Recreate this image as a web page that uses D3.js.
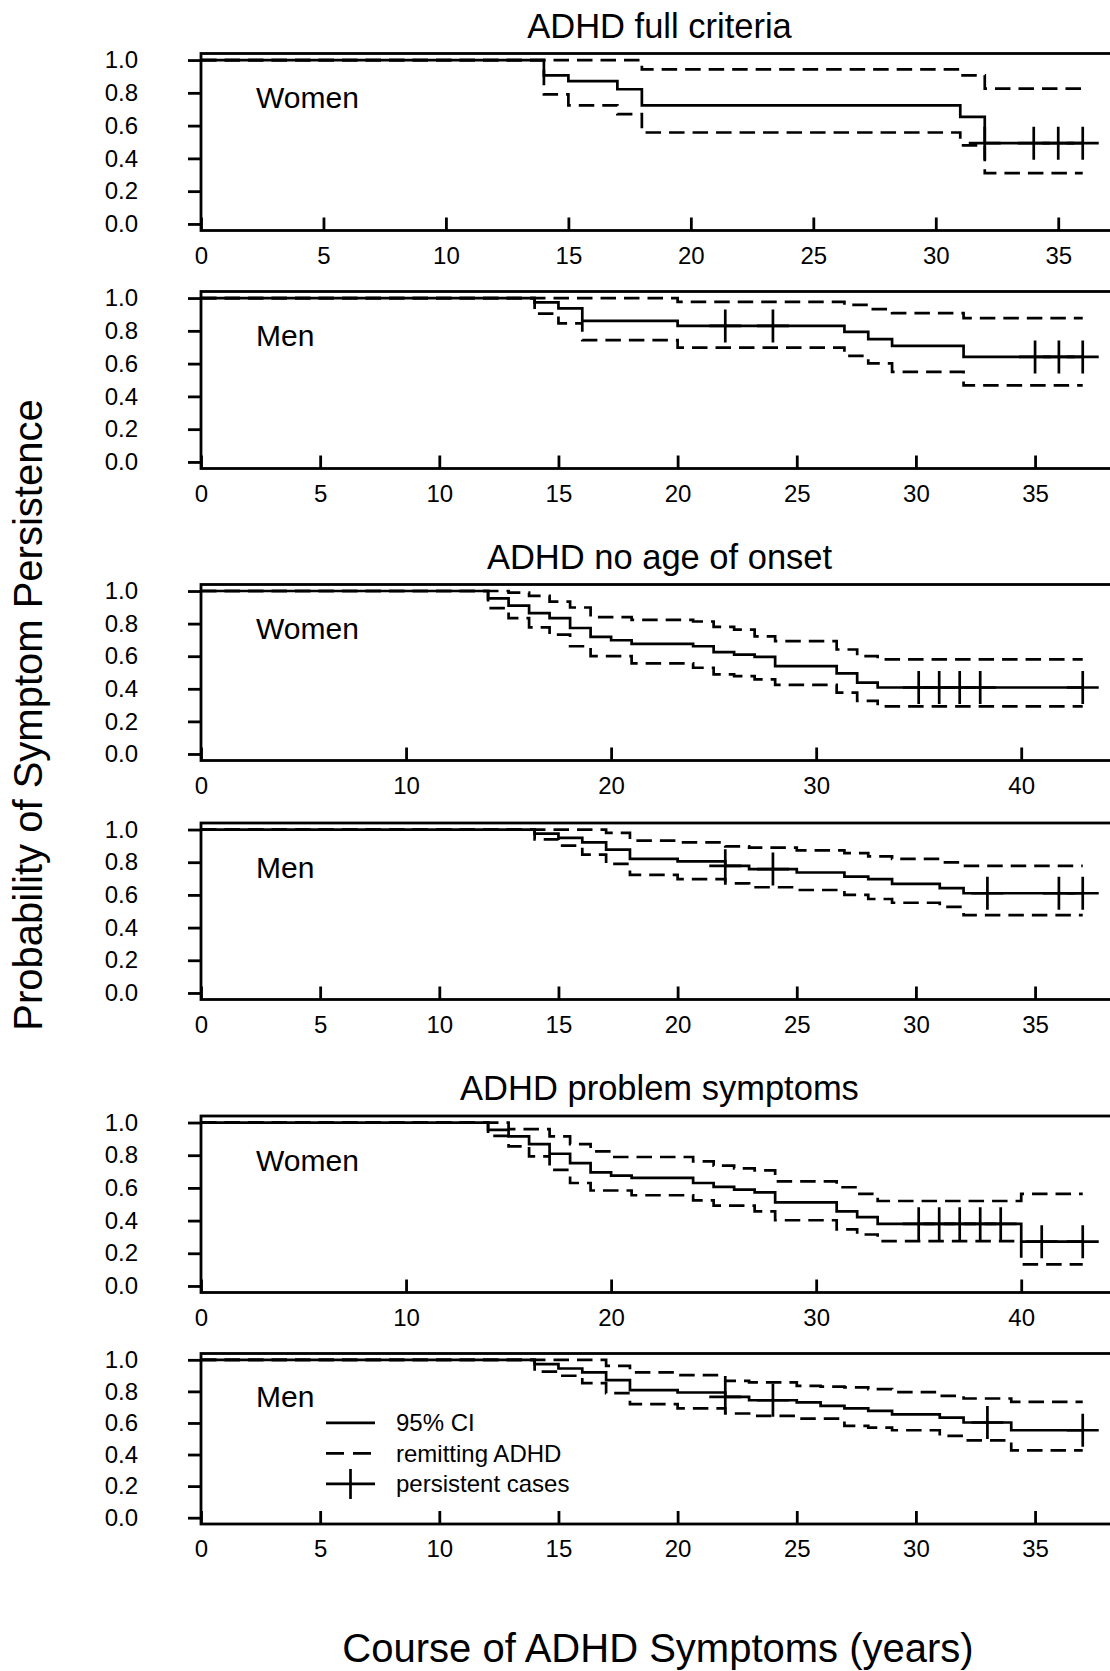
<!DOCTYPE html>
<html>
<head>
<meta charset="utf-8">
<script src="https://cdn.jsdelivr.net/npm/d3@7"></script>
<style>
  body { margin: 0; background: #fff; }
  svg { display: block; font-family: "Liberation Sans", Arial, sans-serif; }
</style>
</head>
<body>
<svg id="chart" width="1110" height="1671"></svg>
<script>
// titles and tick labels
const titles = ["ADHD full criteria", "ADHD no age of onset", "ADHD problem symptoms"];
const groupLabels = ["Women", "Men"];
const yTicks = [0, 0.2, 0.4, 0.6, 0.8, 1.0];
const ticks5 = [0, 5, 10, 15, 20, 25, 30, 35];
const ticks10 = [0, 10, 20, 30, 40];
const legendLabels = ["95% CI", "remitting ADHD", "persistent cases"];

// ADHD full criteria - women  ([time, value] steps)
const fullWomenSurv = [[0, 1], [14, 0.907], [15, 0.872], [17, 0.822], [18, 0.724], [31, 0.653], [32, 0.493]];
const fullWomenUpper = [[0, 1], [18, 0.943], [31, 0.907], [32, 0.826]];
const fullWomenLower = [[0, 1], [14, 0.79], [15, 0.724], [17, 0.67], [18, 0.558], [31, 0.48], [32, 0.31]];
const fullWomenCensor = [32, 34, 35, 36];
const fullWomenEnd = 36;

// ADHD full criteria - men
const fullMenSurv = [[0, 1], [14, 0.974], [15, 0.937], [16, 0.861], [20, 0.83], [27, 0.794], [28, 0.749], [29, 0.708], [32, 0.641]];
const fullMenUpper = [[0, 1], [20, 0.977], [27, 0.959], [28, 0.933], [29, 0.908], [32, 0.877]];
const fullMenLower = [[0, 1], [14, 0.905], [15, 0.845], [16, 0.743], [20, 0.698], [27, 0.647], [28, 0.602], [29, 0.549], [32, 0.467]];
const fullMenCensor = [22, 24, 35, 36, 37];
const fullMenEnd = 37;

// ADHD no age of onset - women
const onsetWomenSurv = [[0, 1], [14, 0.955], [15, 0.91], [16, 0.864], [17, 0.834], [18, 0.773], [19, 0.718], [20, 0.698], [21, 0.676],
  [24, 0.661], [25, 0.625], [26, 0.61], [27, 0.596], [28, 0.539], [31, 0.495], [32, 0.438], [33, 0.408]];
const onsetWomenUpper = [[0, 1], [15, 0.99], [16, 0.97], [17, 0.935], [18, 0.899], [19, 0.84], [21, 0.823], [24, 0.813], [25, 0.78],
  [26, 0.763], [27, 0.722], [28, 0.692], [31, 0.641], [32, 0.6], [33, 0.58]];
const onsetWomenLower = [[0, 1], [14, 0.895], [15, 0.834], [16, 0.777], [17, 0.732], [18, 0.661], [19, 0.6], [21, 0.556], [24, 0.529],
  [25, 0.489], [26, 0.478], [27, 0.458], [28, 0.424], [31, 0.377], [32, 0.326], [33, 0.292]];
const onsetWomenCensor = [35, 36, 37, 38, 43];
const onsetWomenEnd = 43;

// ADHD no age of onset - men
const onsetMenSurv = [[0, 1], [14, 0.975], [15, 0.949], [16, 0.922], [17, 0.877], [18, 0.821], [20, 0.805], [22, 0.778], [23, 0.758],
  [25, 0.737], [27, 0.712], [28, 0.696], [29, 0.667], [31, 0.641], [32, 0.61]];
const onsetMenUpper = [[0, 1], [17, 0.98], [18, 0.932], [20, 0.922], [22, 0.897], [23, 0.889], [25, 0.872], [27, 0.856], [28, 0.836],
  [29, 0.821], [31, 0.799], [32, 0.778]];
const onsetMenLower = [[0, 1], [14, 0.94], [15, 0.901], [16, 0.846], [17, 0.79], [18, 0.723], [20, 0.696], [22, 0.671], [23, 0.647],
  [25, 0.63], [27, 0.6], [28, 0.575], [29, 0.552], [31, 0.527], [32, 0.476]];
const onsetMenCensor = [22, 24, 33, 36, 37];
const onsetMenEnd = 37;

// ADHD problem symptoms - women
const probWomenSurv = [[0, 1], [14, 0.955], [15, 0.915], [16, 0.868], [17, 0.809], [18, 0.752], [19, 0.695], [20, 0.675], [21, 0.661],
  [24, 0.63], [25, 0.606], [26, 0.59], [27, 0.573], [28, 0.512], [31, 0.457], [32, 0.421], [33, 0.38], [40, 0.271]];
const probWomenUpper = [[0, 1], [15, 0.96], [17, 0.915], [18, 0.868], [19, 0.823], [20, 0.789], [24, 0.762], [25, 0.736], [26, 0.72],
  [27, 0.707], [28, 0.64], [31, 0.604], [32, 0.563], [33, 0.52], [40, 0.563]];
const probWomenLower = [[0, 1], [14, 0.919], [15, 0.854], [16, 0.793], [17, 0.71], [18, 0.63], [19, 0.584], [21, 0.555], [24, 0.524],
  [25, 0.492], [27, 0.457], [28, 0.402], [31, 0.346], [32, 0.315], [33, 0.274], [40, 0.132]];
const probWomenCensor = [35, 36, 37, 38, 39, 41, 43];
const probWomenEnd = 43;

// ADHD problem symptoms - men
const probMenSurv = [[0, 1], [14, 0.973], [15, 0.945], [16, 0.92], [17, 0.871], [18, 0.808], [20, 0.793], [22, 0.765], [23, 0.744],
  [25, 0.73], [26, 0.708], [27, 0.692], [28, 0.676], [29, 0.655], [31, 0.634], [32, 0.603], [34, 0.554]];
const probMenUpper = [[0, 1], [17, 0.962], [18, 0.92], [20, 0.903], [22, 0.867], [23, 0.857], [25, 0.835], [26, 0.83], [27, 0.825],
  [28, 0.814], [29, 0.795], [31, 0.772], [32, 0.755], [34, 0.734]];
const probMenLower = [[0, 1], [14, 0.925], [15, 0.899], [16, 0.852], [17, 0.789], [18, 0.719], [20, 0.692], [22, 0.66], [23, 0.645],
  [25, 0.628], [27, 0.581], [28, 0.571], [29, 0.554], [31, 0.518], [32, 0.49], [34, 0.427]];
const probMenCensor = [22, 24, 33, 37];
const probMenEnd = 37;

// layout
const svg = d3.select("#chart");
const left = 201, right = 1118;   // right edge of the box sits just outside the picture
const dash = "15.5,8";
const lw = 2.7;

const panels = [
  { title: titles[0], label: groupLabels[0], surv: fullWomenSurv, upper: fullWomenUpper, lower: fullWomenLower, censor: fullWomenCensor, tEnd: fullWomenEnd, xTicks: ticks5, top: 53.5, bottom: 230.5 },
  { label: groupLabels[1], surv: fullMenSurv, upper: fullMenUpper, lower: fullMenLower, censor: fullMenCensor, tEnd: fullMenEnd, xTicks: ticks5, top: 291.5, bottom: 468.5 },
  { title: titles[1], label: groupLabels[0], surv: onsetWomenSurv, upper: onsetWomenUpper, lower: onsetWomenLower, censor: onsetWomenCensor, tEnd: onsetWomenEnd, xTicks: ticks10, top: 584.5, bottom: 760.5 },
  { label: groupLabels[1], surv: onsetMenSurv, upper: onsetMenUpper, lower: onsetMenLower, censor: onsetMenCensor, tEnd: onsetMenEnd, xTicks: ticks5, top: 823, bottom: 999.5 },
  { title: titles[2], label: groupLabels[0], surv: probWomenSurv, upper: probWomenUpper, lower: probWomenLower, censor: probWomenCensor, tEnd: probWomenEnd, xTicks: ticks10, top: 1116, bottom: 1292.5 },
  { label: groupLabels[1], surv: probMenSurv, upper: probMenUpper, lower: probMenLower, censor: probMenCensor, tEnd: probMenEnd, xTicks: ticks5, top: 1353.5, bottom: 1524, legend: true }
];

// value of a step function at time t
const stepAt = (steps, t) => {
  let v = steps[0][1];
  steps.forEach(d => { if (d[0] <= t) v = d[1]; });
  return v;
};

const plusPath = (cx, cy, w, h) => `M${cx - w},${cy}H${cx + w}M${cx},${cy - h}V${cy + h}`;

panels.forEach(p => {
  const x = d3.scaleLinear().domain([0, p.tEnd * 1.04]).range([left, right]);
  const y = d3.scaleLinear().domain([-0.04, 1.04]).range([p.bottom, p.top]);
  const g = svg.append("g");

  const line = d3.line().x(d => x(d[0])).y(d => y(d[1])).curve(d3.curveStepAfter);
  const withEnd = s => s.concat([[p.tEnd, s[s.length - 1][1]]]);

  // y axis, ticks outward
  const yAxis = g.append("g").attr("transform", `translate(${left},0)`)
    .call(d3.axisLeft(y).tickValues(yTicks).tickFormat(d3.format(".1f")).tickSize(13).tickPadding(50));
  // x axis, ticks inward
  const xAxis = g.append("g").attr("transform", `translate(0,${p.bottom})`)
    .call(d3.axisBottom(x).tickValues(p.xTicks).tickSizeInner(-13).tickSizeOuter(0).tickPadding(16));
  [yAxis, xAxis].forEach(a => {
    a.select(".domain").remove();
    a.attr("font-size", 24).attr("font-family", null);
    a.selectAll("line").attr("stroke-width", 2.8);
    a.selectAll("text").attr("fill", "#000");
  });

  g.append("rect")
    .attr("x", left).attr("y", p.top)
    .attr("width", right - left).attr("height", p.bottom - p.top)
    .attr("fill", "none").attr("stroke", "#000").attr("stroke-width", 2.8);

  // confidence lines
  [p.upper, p.lower].forEach(s => {
    g.append("path").attr("d", line(withEnd(s)))
      .attr("fill", "none").attr("stroke", "#000").attr("stroke-width", lw)
      .attr("stroke-dasharray", dash);
  });

  // survival curve
  g.append("path").attr("d", line(withEnd(p.surv)))
    .attr("fill", "none").attr("stroke", "#000").attr("stroke-width", lw);

  // censored cases
  g.selectAll(".cens").data(p.censor).join("path")
    .attr("d", t => plusPath(x(t), y(stepAt(p.surv, t)), 16, 16.5))
    .attr("stroke", "#000").attr("stroke-width", lw);

  g.append("text").attr("x", 256).attr("y", y(0.77)).attr("dy", "0.35em")
    .attr("font-size", 30).text(p.label);

  if (p.title) {
    svg.append("text").attr("x", (left + right) / 2).attr("y", p.top - 16)
      .attr("text-anchor", "middle").attr("font-size", 34.5).text(p.title);
  }

  if (p.legend) {
    const lg = g.append("g").attr("transform", `translate(326,${y(0.6)})`);
    legendLabels.forEach((lab, i) => {
      const ly = i * 30.5;
      const seg = lg.append("path").attr("d", `M0,${ly}H49`)
        .attr("stroke", "#000").attr("stroke-width", lw);
      if (i === 1) seg.attr("stroke-dasharray", "18,9");
      if (i === 2) lg.append("path").attr("d", plusPath(24.5, ly, 0, 15)).attr("stroke", "#000").attr("stroke-width", lw);
      lg.append("text").attr("x", 70).attr("y", ly).attr("dy", "0.35em")
        .attr("font-size", 24).text(lab);
    });
  }
});

// axis titles
svg.append("text").attr("transform", "translate(42,715) rotate(-90)")
  .attr("text-anchor", "middle").attr("font-size", 40)
  .text("Probability of Symptom Persistence");
svg.append("text").attr("x", 658).attr("y", 1662)
  .attr("text-anchor", "middle").attr("font-size", 40)
  .text("Course of ADHD Symptoms (years)");
</script>
</body>
</html>
